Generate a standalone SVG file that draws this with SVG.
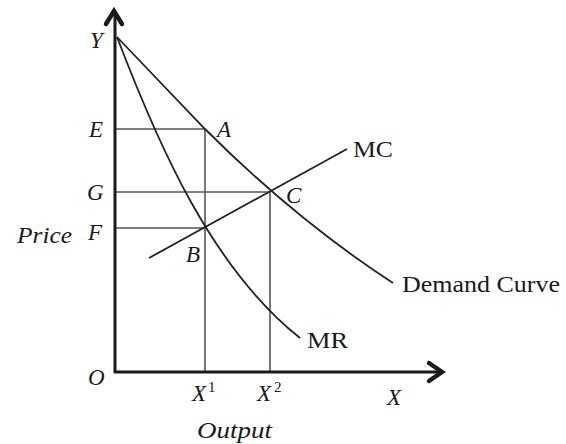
<svg xmlns="http://www.w3.org/2000/svg" width="566" height="444" viewBox="0 0 566 444">
<style>
.ax{stroke:#1a1a1a;stroke-width:3;fill:none}
.ah{stroke:#1a1a1a;stroke-width:4.5;fill:none;stroke-linecap:round;stroke-linejoin:miter}
.cv{stroke:#222;stroke-width:1.8;fill:none}
.gd{stroke:#555;stroke-width:1.6;fill:none}
text{font-family:"Liberation Serif","Times New Roman",serif;font-size:23px;fill:#1a1a1a}
.i{font-style:italic}
.sup{font-size:15px}
</style>
<rect width="566" height="444" fill="#fff"/>
<g id="guides">
<line class="gd" x1="115" y1="129" x2="205" y2="129"/>
<line class="gd" x1="115" y1="192" x2="270" y2="192"/>
<line class="gd" x1="115" y1="228" x2="205" y2="228"/>
<line class="gd" x1="205" y1="129" x2="205" y2="372"/>
<line class="gd" x1="270" y1="192" x2="270" y2="372"/>
</g>
<g id="connectors">
<path id="demand" class="cv" d="M117,37 L205,129 Q296,220 393,283"/>
<path id="mr" class="cv" d="M117,37 C159,147 212,268 300,338"/>
<line id="mc" class="cv" x1="149" y1="258" x2="347" y2="149"/>
</g>
<g id="axes">
<line class="ax" x1="115" y1="12" x2="115" y2="373"/>
<line class="ax" x1="114" y1="372" x2="442" y2="372"/>
<polyline class="ah" points="106,24 114,11 122,24"/>
<polyline class="ah" points="429,363 442,372 429,381"/>
</g>
<g id="labels">
<text class="i" x="90" y="48">Y</text>
<text class="i" x="89" y="137">E</text>
<text class="i" x="217" y="137">A</text>
<text class="i" x="87" y="200">G</text>
<text class="i" x="286" y="203">C</text>
<text x="353" y="157" textLength="40" lengthAdjust="spacingAndGlyphs">MC</text>
<text class="i" x="17" y="243" textLength="55" lengthAdjust="spacingAndGlyphs">Price</text>
<text class="i" x="88" y="240">F</text>
<text class="i" x="186" y="262">B</text>
<text class="i" x="88" y="385">O</text>
<text class="i" x="192" y="401">X</text><text class="sup" x="208" y="392">1</text>
<text class="i" x="257" y="401">X</text><text class="sup" x="274" y="392">2</text>
<text class="i" x="387" y="405">X</text>
<text class="i" x="197" y="438" textLength="75" lengthAdjust="spacingAndGlyphs">Output</text>
<text x="402" y="292" textLength="158" lengthAdjust="spacingAndGlyphs">Demand Curve</text>
<text x="307" y="348" textLength="41" lengthAdjust="spacingAndGlyphs">MR</text>
</g>
</svg>
